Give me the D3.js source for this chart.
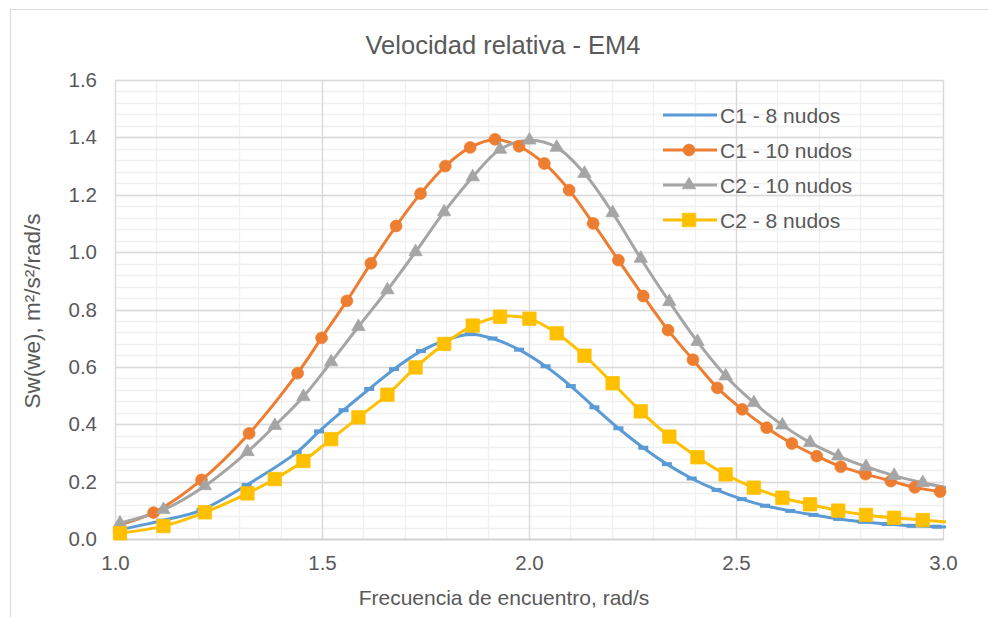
<!DOCTYPE html>
<html>
<head>
<meta charset="utf-8">
<script src="https://cdn.jsdelivr.net/npm/d3@7"></script>
<style>
  html, body { margin: 0; padding: 0; background: #ffffff; }
  svg { display: block; font-family: "Liberation Sans", Arial, sans-serif; }
</style>
</head>
<body>
<svg id="chart" width="988" height="617"></svg>
<script>
// Encounter frequency (rad/s) and spectral ordinate for each condition
const xC1_8 = [1.008, 1.113, 1.209, 1.318, 1.439, 1.493, 1.552, 1.614, 1.674, 1.739, 1.799, 1.857, 1.912, 1.976, 2.040, 2.101, 2.158, 2.216, 2.276, 2.333, 2.393, 2.453, 2.514, 2.570, 2.631, 2.687, 2.747, 2.806, 2.864, 2.924, 2.985, 3.045];
const yC1_8 = [0.031, 0.064, 0.101, 0.188, 0.302, 0.375, 0.449, 0.523, 0.592, 0.655, 0.693, 0.714, 0.699, 0.660, 0.602, 0.533, 0.459, 0.386, 0.318, 0.261, 0.211, 0.171, 0.139, 0.116, 0.098, 0.084, 0.070, 0.060, 0.052, 0.046, 0.043, 0.041];

const xC1_10 = [0.975, 1.093, 1.209, 1.324, 1.441, 1.499, 1.560, 1.618, 1.679, 1.738, 1.798, 1.858, 1.918, 1.976, 2.037, 2.097, 2.155, 2.216, 2.276, 2.336, 2.396, 2.455, 2.515, 2.574, 2.635, 2.695, 2.753, 2.813, 2.874, 2.932, 2.993];
const yC1_10 = [0.035, 0.092, 0.206, 0.368, 0.578, 0.701, 0.830, 0.961, 1.091, 1.204, 1.300, 1.365, 1.393, 1.369, 1.309, 1.216, 1.100, 0.972, 0.847, 0.728, 0.625, 0.527, 0.452, 0.388, 0.333, 0.289, 0.252, 0.226, 0.202, 0.180, 0.165];

const xC2 = [1.012, 1.117, 1.217, 1.320, 1.386, 1.455, 1.522, 1.588, 1.658, 1.726, 1.795, 1.864, 1.930, 2.001, 2.067, 2.134, 2.202, 2.270, 2.339, 2.407, 2.475, 2.543, 2.612, 2.679, 2.747, 2.814, 2.882, 2.951, 3.019];
const yC2_10 = [0.055, 0.102, 0.185, 0.304, 0.395, 0.496, 0.617, 0.740, 0.868, 1.001, 1.140, 1.262, 1.358, 1.390, 1.365, 1.274, 1.137, 0.978, 0.827, 0.688, 0.568, 0.475, 0.397, 0.336, 0.289, 0.252, 0.221, 0.196, 0.176];
const yC2_8 = [0.020, 0.045, 0.093, 0.159, 0.209, 0.272, 0.348, 0.424, 0.503, 0.598, 0.680, 0.744, 0.775, 0.768, 0.717, 0.639, 0.543, 0.445, 0.357, 0.285, 0.225, 0.179, 0.144, 0.121, 0.099, 0.084, 0.074, 0.066, 0.058];

const seriesNames = ["C1 - 8 nudos", "C1 - 10 nudos", "C2 - 10 nudos", "C2 - 8 nudos"];
const seriesColors = ["#5B9BD5", "#ED7D31", "#A5A5A5", "#FFC000"];
const seriesMarkers = ["dash", "circle", "triangle", "square"];

const xTicks = [1.0, 1.5, 2.0, 2.5, 3.0];
const yTicks = [0.0, 0.2, 0.4, 0.6, 0.8, 1.0, 1.2, 1.4, 1.6];

const chartTitle = "Velocidad relativa - EM4";
const xTitle = "Frecuencia de encuentro, rad/s";
const yTitle = "Sw(we), m²/s²/rad/s";

const series = [
  { name: seriesNames[0], xs: xC1_8,  ys: yC1_8,  color: seriesColors[0], marker: seriesMarkers[0] },
  { name: seriesNames[1], xs: xC1_10, ys: yC1_10, color: seriesColors[1], marker: seriesMarkers[1] },
  { name: seriesNames[2], xs: xC2,    ys: yC2_10, color: seriesColors[2], marker: seriesMarkers[2] },
  { name: seriesNames[3], xs: xC2,    ys: yC2_8,  color: seriesColors[3], marker: seriesMarkers[3] }
].map(s => ({ ...s, points: s.xs.map((x, i) => ({ x, y: s.ys[i] })) }));

const svg = d3.select("#chart");
const textColor = "#595959";

const plot = { left: 115, right: 943, top: 80, bottom: 539 };
const x = d3.scaleLinear().domain([1, 3]).range([plot.left, plot.right]);
const y = d3.scaleLinear().domain([0, 1.6]).range([plot.bottom, plot.top]);

// Chart frame
svg.append("rect")
  .attr("x", 10.5).attr("y", 9.5)
  .attr("width", 1100).attr("height", 800)
  .attr("fill", "#ffffff").attr("stroke", "#D9D9D9").attr("stroke-width", 1);

// Gridlines: minor first, then major
const grid = svg.append("g");
const minorX = d3.range(1, 3.0001, 0.1);
const minorY = d3.range(0, 1.6001, 0.04);
grid.selectAll(".mx").data(minorX).join("line")
  .attr("x1", d => Math.round(x(d)) + 0.5).attr("x2", d => Math.round(x(d)) + 0.5)
  .attr("y1", plot.top).attr("y2", plot.bottom)
  .attr("stroke", "#F0F0F0").attr("stroke-width", 1.3);
grid.selectAll(".my").data(minorY).join("line")
  .attr("y1", d => Math.round(y(d)) + 0.5).attr("y2", d => Math.round(y(d)) + 0.5)
  .attr("x1", plot.left).attr("x2", plot.right)
  .attr("stroke", "#F0F0F0").attr("stroke-width", 1.3);
grid.selectAll(".Mx").data(xTicks).join("line")
  .attr("x1", d => Math.round(x(d)) + 0.5).attr("x2", d => Math.round(x(d)) + 0.5)
  .attr("y1", plot.top).attr("y2", plot.bottom)
  .attr("stroke", "#D9D9D9").attr("stroke-width", 1.3);
grid.selectAll(".My").data(yTicks).join("line")
  .attr("y1", d => Math.round(y(d)) + 0.5).attr("y2", d => Math.round(y(d)) + 0.5)
  .attr("x1", plot.left).attr("x2", plot.right)
  .attr("stroke", "#D9D9D9").attr("stroke-width", 1.3);

// Axes (labels only)
const fmt = d3.format(".1f");
const xAxis = svg.append("g")
  .attr("transform", `translate(0,${plot.bottom})`)
  .call(d3.axisBottom(x).tickValues(xTicks).tickFormat(fmt).tickSize(0).tickPadding(14));
const yAxis = svg.append("g")
  .attr("transform", `translate(${plot.left},0)`)
  .call(d3.axisLeft(y).tickValues(yTicks).tickFormat(fmt).tickSize(0).tickPadding(18));
[xAxis, yAxis].forEach(a => {
  a.select(".domain").remove();
  a.selectAll("text").attr("fill", textColor).style("font-size", "20.5px")
    .style("font-family", "'Liberation Sans', Arial, sans-serif");
});
xAxis.selectAll("text").attr("dy", "0.85em");

// Bottom axis line
svg.append("line")
  .attr("x1", plot.left).attr("x2", plot.right + 1)
  .attr("y1", plot.bottom + 0.5).attr("y2", plot.bottom + 0.5)
  .attr("stroke", "#CFCFCF").attr("stroke-width", 1.3);

// Titles
svg.append("text").attr("x", 503).attr("y", 54)
  .attr("text-anchor", "middle").attr("fill", textColor)
  .style("font-size", "25.5px").text(chartTitle);
svg.append("text").attr("x", 504).attr("y", 605)
  .attr("text-anchor", "middle").attr("fill", textColor)
  .style("font-size", "21px").text(xTitle);
svg.append("text")
  .attr("transform", "translate(40,311) rotate(-90)")
  .attr("text-anchor", "middle").attr("fill", textColor)
  .style("font-size", "22.5px").text(yTitle);

// Series
svg.append("clipPath").attr("id", "plotClip")
  .append("rect").attr("x", plot.left).attr("y", plot.top - 10)
  .attr("width", plot.right - plot.left + 3).attr("height", plot.bottom - plot.top + 20);

const line = d3.line()
  .x(d => x(d.x)).y(d => y(d.y))
  .curve(d3.curveCatmullRom.alpha(0.5));

function drawMarker(sel, type, color) {
  if (type === "dash") {
    sel.append("rect").attr("x", -5).attr("y", -2).attr("width", 10).attr("height", 4)
      .attr("fill", color);
  } else if (type === "circle") {
    sel.append("path").attr("d", d3.symbol(d3.symbolCircle, 110)())
      .attr("fill", color).attr("stroke", color).attr("stroke-width", 0.75);
  } else if (type === "triangle") {
    sel.append("path").attr("d", d3.symbol(d3.symbolTriangle, 78)())
      .attr("fill", color).attr("stroke", color).attr("stroke-width", 0.75);
  } else if (type === "square") {
    sel.append("path").attr("d", d3.symbol(d3.symbolSquare, 180)())
      .attr("fill", color).attr("stroke", color).attr("stroke-width", 0.75);
  }
}

const seriesLayer = svg.append("g").attr("clip-path", "url(#plotClip)");
series.forEach(s => {
  seriesLayer.append("path").datum(s.points)
    .attr("d", line).attr("fill", "none")
    .attr("stroke", s.color).attr("stroke-width", 3)
    .attr("stroke-linejoin", "round").attr("stroke-linecap", "round");
});
const markerLayer = svg.append("g");
series.forEach(s => {
  markerLayer.selectAll(null)
    .data(s.points.filter(p => p.x >= 1 && p.x <= 3))
    .join("g")
    .attr("transform", d => `translate(${x(d.x)},${y(d.y)})`)
    .each(function () { drawMarker(d3.select(this), s.marker, s.color); });
});

// Legend
const legend = svg.append("g").attr("transform", "translate(663,115)");
series.forEach((s, i) => {
  const row = legend.append("g").attr("transform", `translate(0,${i * 35})`);
  row.append("line").attr("x1", 0).attr("x2", 54).attr("y1", 0).attr("y2", 0)
    .attr("stroke", s.color).attr("stroke-width", 3);
  const m = row.append("g").attr("transform", "translate(26,0)");
  if (s.marker !== "dash") drawMarker(m, s.marker, s.color);
  row.append("text").attr("x", 57).attr("y", 0).attr("dy", "0.36em")
    .attr("fill", textColor).style("font-size", "21px").text(s.name);
});
</script>
</body>
</html>
